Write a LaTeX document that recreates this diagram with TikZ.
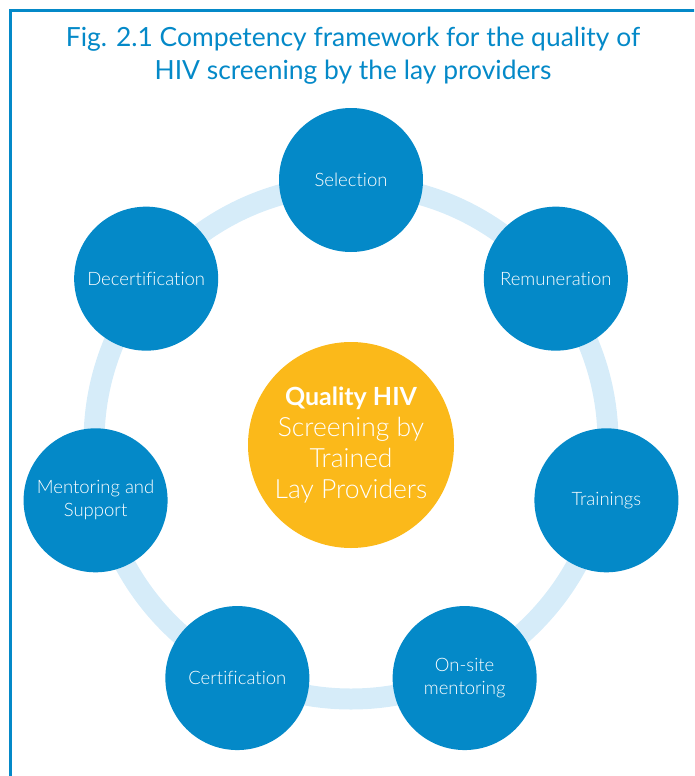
\documentclass[tikz,border=0pt]{standalone}
\usepackage{fontspec}
\setmainfont{Lato}[Ligatures={NoCommon}]
\newfontfamily\lightfont{Lato Light}[Ligatures={NoCommon}]
\definecolor{mblue}{RGB}{4,137,200}
\definecolor{ringc}{RGB}{214,236,249}
\definecolor{myellow}{RGB}{251,185,26}
\tikzset{
  stage/.style={circle, minimum size=144pt, inner sep=0pt, fill=mblue, text=white,
    align=center, font=\lightfont\fontsize{18.5}{23}\selectfont},
  hub/.style={circle, minimum size=206pt, inner sep=0pt, fill=myellow, text=white,
    align=center, font=\lightfont\fontsize{26.5}{31}\selectfont},
  titletext/.style={anchor=base, text=mblue, font=\fontsize{26.4}{33}\selectfont, inner sep=0pt},
  ring/.style={draw=ringc, line width=21pt}
}
\begin{document}
\begin{tikzpicture}[x=1pt,y=-1pt]
\useasboundingbox (0,0) rectangle (694,776);
\begin{scope}
  \clip (0,0) rectangle (694,776);
  \draw[mblue, line width=3pt] (10,800) -- (10,11) -- (720,11);
\end{scope}
\node[titletext] (title1) at (353,47) {Fig. 2.1 Competency framework for the quality of};
\node[titletext] (title2) at (353,80) {HIV screening by the lay providers};
\coordinate (c) at (351,442);
\draw[ring] (c) circle[radius=257pt];
\begin{scope}[shift={(351,442)}]
  \node[stage] (sel) at (-90:262) {Selection};
  \node[stage] (rem) at (-38.57:262) {Remuneration};
  \node[stage] (tra) at (12.86:262) {Trainings};
  \node[stage] (ons) at (64.29:262) {On-site\\mentoring};
  \node[stage] (cer) at (115.71:262) {Certification};
  \node[stage] (men) at (167.14:262) {Mentoring and\\Support};
  \node[stage] (dec) at (218.57:262) {Decertification};
\end{scope}
\node[hub] (hub) at (351,445) {{\normalfont\bfseries\fontsize{25}{31}\selectfont Quality HIV}\\Screening by\\Trained\\Lay Providers};
\end{tikzpicture}
\end{document}
